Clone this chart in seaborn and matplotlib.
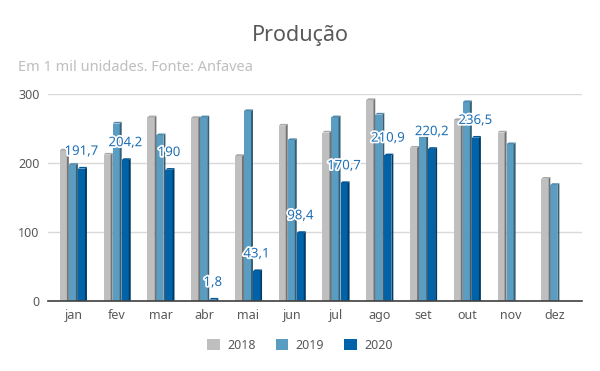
import matplotlib
matplotlib.use("Agg")
import numpy as np
import pandas as pd
import seaborn as sns
import matplotlib.pyplot as plt
import matplotlib.patheffects as pe
from matplotlib.patches import Polygon, Patch
from matplotlib.colors import to_rgb

months = ["jan", "fev", "mar", "abr", "mai", "jun", "jul", "ago", "set", "out", "nov", "dez"]
years = ["2018", "2019", "2020"]
prod_2018 = [218, 212, 266, 265, 210, 254, 244, 291, 222, 262, 244, 177]
prod_2019 = [197, 257, 240, 266, 275, 233, 266, 270, 237, 288, 227, 168]
prod_2020 = [191.7, 204.2, 190, 1.8, 43.1, 98.4, 170.7, 210.9, 220.2, 236.5, np.nan, np.nan]
label_2020 = ["191,7", "204,2", "190", "1,8", "43,1", "98,4", "170,7", "210,9", "220,2", "236,5"]
colors = ["#BFBFBF", "#5A9DC3", "#0062A8"]


def shade(color, factor):
    r, g, b = to_rgb(color)
    return (r * factor, g * factor, b * factor)


def main() -> None:
    sns.set_theme(style = "white")
    plt.rcParams["font.family"] = ["Noto Sans", "DejaVu Sans"]

    frame = pd.DataFrame({
        "mes": months * 3,
        "ano": [y for y in years for _ in months],
        "valor": prod_2018 + prod_2019 + prod_2020,
    })

    fig = plt.figure(figsize = (6, 3.71), dpi = 100)
    ax = fig.add_axes([0.08, 0.189, 0.89, 0.558])
    sns.barplot(data = frame, x = "mes", y = "valor", hue = "ano", palette = colors,
                width = 0.62, saturation = 1, legend = False, ax = ax, zorder = 3,
                edgecolor = "none", linewidth = 0)

    ax.set_ylim(0, 300)
    ax.set_xlim(-0.58, 11.62)
    ax.set_yticks([0, 100, 200, 300])
    ax.yaxis.grid(True, color = "#D9D9D9", linewidth = 1, zorder = 0)
    ax.set_axisbelow(True)
    for side in ["top", "right", "left"]:
        ax.spines[side].set_visible(False)
    ax.spines["bottom"].set_color("#404040")
    ax.spines["bottom"].set_linewidth(1.2)
    ax.spines["bottom"].set_zorder(6)
    ax.tick_params(axis = "both", length = 0, labelsize = 9, colors = "#595959", pad = 6)
    ax.set_xlabel("")
    ax.set_ylabel("")

    # fake 3D side and top faces, based on each bar's geometry
    dx = 0.045
    dy = 2.5
    for container, color in zip(ax.containers, colors):
        for bar in container:
            h = bar.get_height()
            if not np.isfinite(h):
                continue
            x0 = bar.get_x()
            x1 = x0 + bar.get_width()
            bar.set_width(bar.get_width() - dx)
            side = Polygon([(x1 - dx, 0), (x1, 0), (x1, h + dy), (x1 - dx, h)],
                           closed = True, facecolor = shade(color, 0.6), edgecolor = "none", zorder = 4)
            top = Polygon([(x0, h), (x1 - dx, h), (x1, h + dy), (x0 + dx, h + dy)],
                          closed = True, facecolor = shade(color, 0.88), edgecolor = "none", zorder = 4)
            ax.add_patch(side)
            ax.add_patch(top)

    for bar, text in zip(ax.containers[2], label_2020):
        h = bar.get_height()
        ax.text(bar.get_x() + bar.get_width() / 2, h + 25, text, ha = "center", va = "center",
                fontsize = 9.5, color = "#1F6FB5", zorder = 7,
                path_effects = [pe.withStroke(linewidth = 2.5, foreground = "white")])

    fig.text(0.5, 0.905, "Produção", ha = "center", va = "center", fontsize = 15.5, color = "#595959")
    fig.text(0.03, 0.818, "Em 1 mil unidades. Fonte: Anfavea", ha = "left", va = "center",
             fontsize = 10.5, color = "#BFBFBF")

    handles = [Patch(facecolor = c, edgecolor = "none") for c in colors]
    fig.legend(handles, years, loc = "center", bbox_to_anchor = (0.5, 0.07), ncol = 3, frameon = False,
               fontsize = 9, labelcolor = "#595959", handlelength = 1.0, handleheight = 1.0,
               handletextpad = 0.6, columnspacing = 1.6)

    fig.savefig("out.png", dpi = 100, facecolor = "white")
    plt.close(fig)


if __name__ == "__main__":
    main()
